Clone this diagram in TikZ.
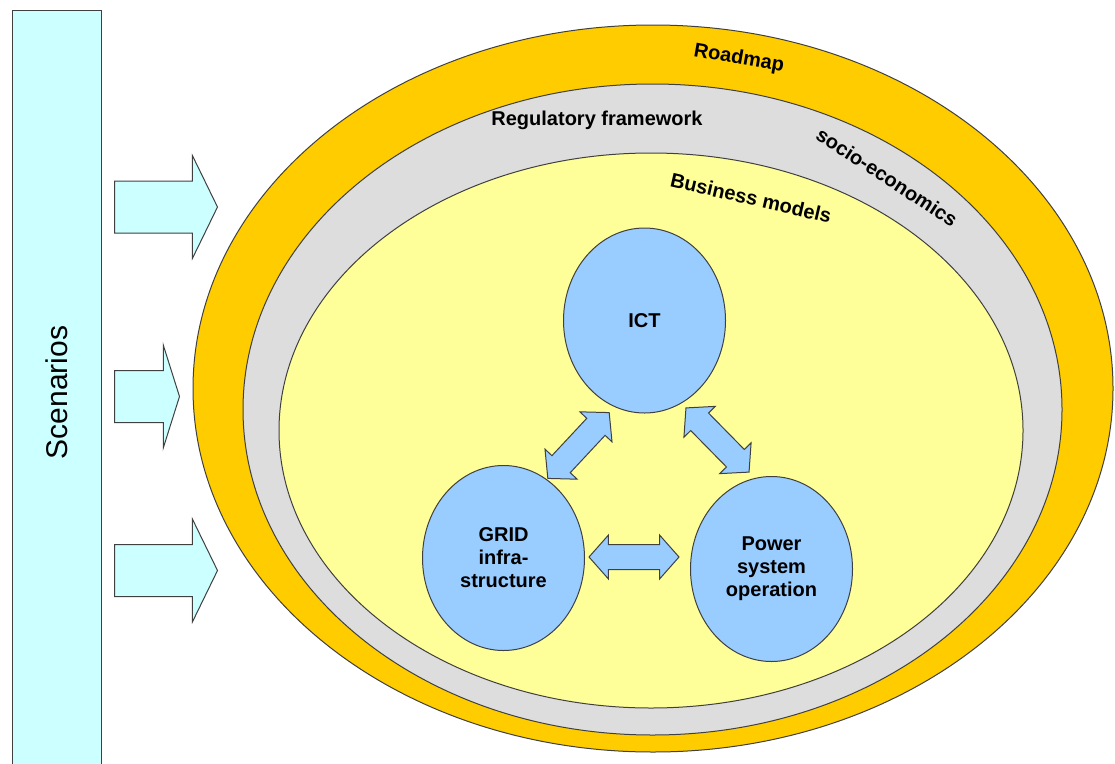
\documentclass[tikz,border=0pt]{standalone}
\usepackage{fontspec}
\setmainfont{Liberation Sans}
\usetikzlibrary{shapes.geometric,shapes.arrows}
\definecolor{scencyan}{HTML}{CCFFFF}
\definecolor{roadorange}{HTML}{FFCC00}
\definecolor{reggray}{HTML}{DDDDDD}
\definecolor{bizyellow}{HTML}{FFFF99}
\definecolor{topicblue}{HTML}{99CCFF}

\begin{document}
\begin{tikzpicture}[x=1pt, y=-1pt,
  ring/.style={ellipse, draw=black!75, line width=1pt, inner sep=0pt},
  topic/.style={ellipse, draw=black!75, line width=1pt, fill=topicblue,
    inner sep=0pt, minimum width=162pt, minimum height=185pt, align=center,
    font=\bfseries\fontsize{20}{23}\selectfont},
  lbl/.style={font=\bfseries\fontsize{20}{24}\selectfont, inner sep=0pt},
  feed/.style={single arrow, draw=black!75, fill=scencyan, line width=1pt,
    inner xsep=0pt, inner ysep=25.5pt, single arrow head extend=25.5pt,
    anchor=tail},
  link/.style={double arrow, draw=black!75, fill=topicblue, line width=1pt,
    inner xsep=0pt, inner ysep=12pt, minimum height=90pt,
    double arrow head extend=9.5pt, double arrow tip angle=97}]
\useasboundingbox (0,0) rectangle (1115,763);
\clip (0,0) rectangle (1115,763);

% scenarios bar and the arrows feeding the roadmap
\node[draw=black!75, fill=scencyan, line width=1pt, inner sep=0pt, rotate=90,
  minimum width=765pt, minimum height=89pt,
  font=\fontsize{30}{36}\selectfont] (scen) at (56.5,392.5) {Scenarios};
\foreach \nm/\y/\len/\ang in {fa/207/103/128, fb/396.5/65/145, fc/570.5/103/128}
  \node[feed, minimum height=\len pt, single arrow tip angle=\ang] (\nm) at (114,\y) {};

% nested rings
\node[ring, fill=roadorange, minimum width=920pt, minimum height=727pt] (roadmap) at (653,388.5) {};
\node[ring, fill=reggray, minimum width=819pt, minimum height=651pt] (regul) at (652.5,409.5) {};
\node[ring, fill=bizyellow, minimum width=744pt, minimum height=555pt] (business) at (651,430.5) {};

\node[lbl, rotate=-10] (roadmaplbl) at (739,59) {Roadmap};
\node[lbl] (regullbl) at (597,120) {Regulatory framework};
\node[lbl, rotate=-33] (sociolbl) at (887,177) {socio-economics};
\node[lbl, rotate=-13] (businesslbl) at (751,198) {Business models};

% core topics
\node[topic] (ict) at (644.5,320.5) {ICT};
\node[topic] (grid) at (503.5,558) {GRID\\infra-\\structure};
\node[topic] (pso) at (771.5,569) {Power\\system\\operation};

\node[link, rotate=47] (gridict) at (578.5,445.5) {};
\node[link, rotate=-45.5] (ictpso) at (717.5,440) {};
\node[link] (gridpso) at (634,557) {};
\end{tikzpicture}
\end{document}
